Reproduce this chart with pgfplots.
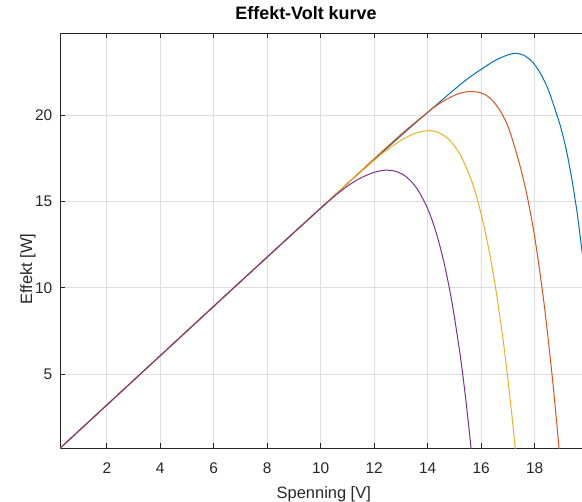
\documentclass[border=0pt]{standalone}
\usepackage{fontspec}
\setmainfont{Liberation Sans}
\usepackage{pgfplots}
\pgfplotsset{compat=1.18}
\definecolor{mblue}{rgb}{0,0.447,0.741}
\definecolor{morange}{rgb}{0.85,0.325,0.098}
\definecolor{myellow}{rgb}{0.929,0.694,0.125}
\definecolor{mpurple}{rgb}{0.494,0.184,0.556}
\definecolor{axgray}{rgb}{0.15,0.15,0.15}
\definecolor{gridgray}{rgb}{0.87,0.87,0.87}
\begin{document}
\begin{tikzpicture}
\begin{axis}[name=ax, scale only axis, width=522bp, height=415bp,
  xmin=0.25, xmax=19.77, ymin=0.70, ymax=24.73,
  axis y line*=left,
  xtick={2,4,...,18}, ytick={5,10,15,20},
  grid=major, major grid style={gridgray, line width=0.6bp},
  axis line style={axgray, line width=0.8bp},
  tick style={axgray, line width=0.8bp}, major tick length=5bp,
  tick align=inside,
  /pgf/number format/assume math mode=true,
  ticklabel style={font=\fontsize{15.5}{18}\selectfont, text=axgray},
  xticklabel style={anchor=base, yshift=-25bp, inner sep=0pt},
  yticklabel style={anchor=east, xshift=-7.5bp, inner sep=0pt},
  xlabel={Spenning [V]}, ylabel={Effekt [W]},
  label style={font=\fontsize{16.5}{19}\selectfont, text=axgray, inner sep=0pt},
  xlabel style={at={(axis description cs:0.5,0)}, anchor=base, yshift=-49.7bp, xshift=2.8bp},
  ylabel style={at={(axis description cs:-0.0536,0.432)}, anchor=base},
  title={Effekt-Volt kurve},
  title style={font=\fontsize{18}{21}\selectfont\bfseries, text=black, inner sep=0pt,
    at={(axis description cs:0.5,1)}, anchor=base, yshift=8bp, xshift=-15bp},
  every axis plot/.append style={line width=1bp, smooth},
]
% blue
\addplot[mblue] coordinates {
(0.25,0.70) (2,3.20) (4,6.06) (6,8.92) (8,11.77) (10,14.61) (11,16.02) (12,17.42)
(13,18.80) (13.5,19.48) (14,20.15) (14.5,20.82) (15,21.48) (15.5,22.11) (16,22.64)
(16.5,23.14) (17,23.48) (17.3,23.57) (17.6,23.45) (17.9,23.10) (18.2,22.45)
(18.5,21.50) (18.8,20.15) (19.0,19.15) (19.2,17.85) (19.4,16.20) (19.6,14.20) (19.8,11.75)
};
% orange
\addplot[morange] coordinates {
(0.25,0.70) (2,3.20) (4,6.06) (6,8.92) (8,11.77) (10,14.62) (11,16.04) (12,17.46)
(13,18.87) (14,20.16) (14.5,20.72) (15,21.14) (15.4,21.33) (15.8,21.34) (16.2,21.13)
(16.6,20.50) (17.0,19.35) (17.4,17.35) (17.7,15.45) (18.0,12.95) (18.3,9.70)
(18.5,7.10) (18.7,4.20) (18.9,0.90) (19.0,-0.90)
};
% yellow
\addplot[myellow] coordinates {
(0.25,0.70) (2,3.20) (4,6.06) (6,8.92) (8,11.77) (10,14.62) (11,16.03) (12,17.38)
(12.5,18.00) (13,18.53) (13.5,18.92) (14,19.09) (14.4,18.99) (14.8,18.57) (15.2,17.74)
(15.6,16.36) (15.9,14.86) (16.2,12.89) (16.5,10.36) (16.8,7.20) (17.0,4.69)
(17.2,1.84) (17.4,-1.38)
};
% purple
\addplot[mpurple] coordinates {
(0.25,0.70) (2,3.21) (4,6.07) (6,8.93) (8,11.78) (9,13.20) (10,14.60) (10.5,15.28)
(11,15.88) (11.5,16.36) (12,16.68) (12.4,16.80) (12.8,16.74) (13.2,16.42) (13.6,15.74)
(14.0,14.57) (14.3,13.27) (14.6,11.52) (14.9,9.22) (15.2,6.25) (15.4,3.84)
(15.6,1.03) (15.7,-0.55)
};
\end{axis}
\coordinate (bl) at ([xshift=-60bp,yshift=-53.7bp]ax.south west);
\coordinate (tr) at ([yshift=33.3bp]ax.north east);
\pgfresetboundingbox
\useasboundingbox (bl) rectangle (tr);
\end{tikzpicture}
\end{document}
